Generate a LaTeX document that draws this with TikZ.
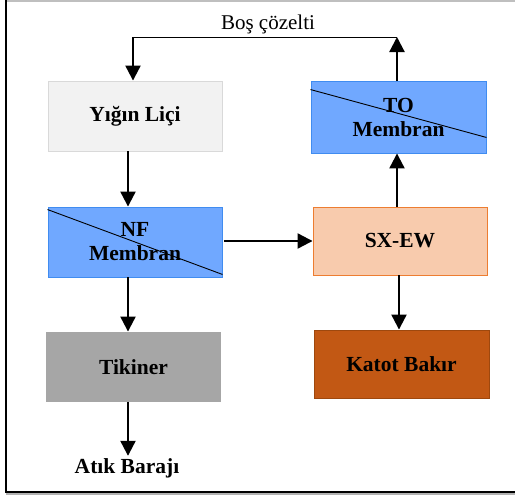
\documentclass[tikz,border=0pt]{standalone}
\usepackage{fontspec}
\setmainfont{Liberation Serif}
\usepackage{tikz}
\usetikzlibrary{arrows.meta,positioning,calc}
\definecolor{flink}{RGB}{0,0,0}
\definecolor{flheap}{RGB}{242,242,242}
\definecolor{flheapedge}{RGB}{217,217,217}
\definecolor{flmem}{RGB}{112,168,255}
\definecolor{flmemedge}{RGB}{64,140,240}
\definecolor{flsx}{RGB}{248,203,173}
\definecolor{flsxedge}{RGB}{237,125,49}
\definecolor{flthick}{RGB}{166,166,166}
\definecolor{flcu}{RGB}{194,88,20}
\definecolor{flcuedge}{RGB}{158,72,14}
\tikzset{
  flbox/.style={
    line width=0.9pt, align=center, inner sep=2pt,
    font=\fontsize{21.5}{24}\selectfont\bfseries,
    minimum width=174pt, minimum height=70pt
  },
  heap/.style={flbox, draw=flheapedge, fill=flheap},
  memb/.style={flbox, draw=flmemedge, fill=flmem},
  sx/.style={flbox, draw=flsxedge, fill=flsx},
  thick/.style={flbox, fill=flthick},
  cu/.style={flbox, draw=flcuedge, fill=flcu},
  arr/.style={-{Triangle[length=15pt,width=15pt]}, draw=flink, line width=2.2pt},
  cut/.style={draw=flink, line width=0.9pt},
  anno/.style={font=\fontsize{21}{24}\selectfont}
}
\begin{document}
\begin{tikzpicture}[x=1pt,y=-1pt]
  \useasboundingbox (0,0) rectangle (515,496);
  % frame of the figure
  \draw[black!25, line width=1.2pt] (6,1) -- (515,1);
  \draw[black!30, line width=1.2pt] (6,494) -- (515,494);
  \draw[black, line width=1.4pt] (6,0) -- (6,492) -- (515,492);

  % columns and return line
  \coordinate (lcol) at (128,0);
  \coordinate (fcol) at (133,0);
  \coordinate (rcol) at (397,0);
  \coordinate (kcol) at (399,0);
  \coordinate (back) at (0,37);

  \node[heap] (yigin) at (135,116) {Yığın Liçi};
  \node[memb, minimum width=175pt, minimum height=72pt] (to) at (398.5,117) {TO\\Membran};
  \node[memb] (nf) at (135,242) {NF\\Membran};
  \node[sx, minimum height=68pt] (sxew) at (400,241) {SX-EW};
  \node[thick, minimum width=175pt] (tik) at (133.5,367) {Tikiner};
  \node[cu, minimum width=175pt, minimum height=68pt] (katot) at (401.5,364) {Katot Bakır};
  \node[flbox, draw=none, fill=none, minimum height=0pt] (atik) at (127,468) {Atık Barajı};
  \node[anno] (bos) at (268,24) {Boş çözelti};

  % membrane strokes
  \draw[cut] ($(nf.north west)+(0,3)$) -- ($(nf.south east)+(0,-3)$);
  \draw[cut] ($(to.north west)+(0,9)$) -- ($(to.south east)+(0,-16)$);

  \draw[arr] (yigin.south -| lcol) -- (nf.north -| lcol);
  \draw[arr] (nf.south -| lcol) -- (tik.north -| lcol);
  \draw[arr] (tik.south -| lcol) -- (atik.north -| lcol);
  \draw[arr] ($(nf.east |- sxew.west)+(2,0)$) -- (sxew.west);
  \draw[arr] (sxew.north -| rcol) -- (to.south -| rcol);
  \draw[arr] (sxew.south -| kcol) -- (katot.north -| kcol);
  \draw[arr] (to.north -| rcol) -- (back -| rcol);
  \draw[line width=1pt] (back -| rcol) -- (back -| fcol);
  \draw[arr] (back -| fcol) -- (yigin.north -| fcol);
\end{tikzpicture}
\end{document}
